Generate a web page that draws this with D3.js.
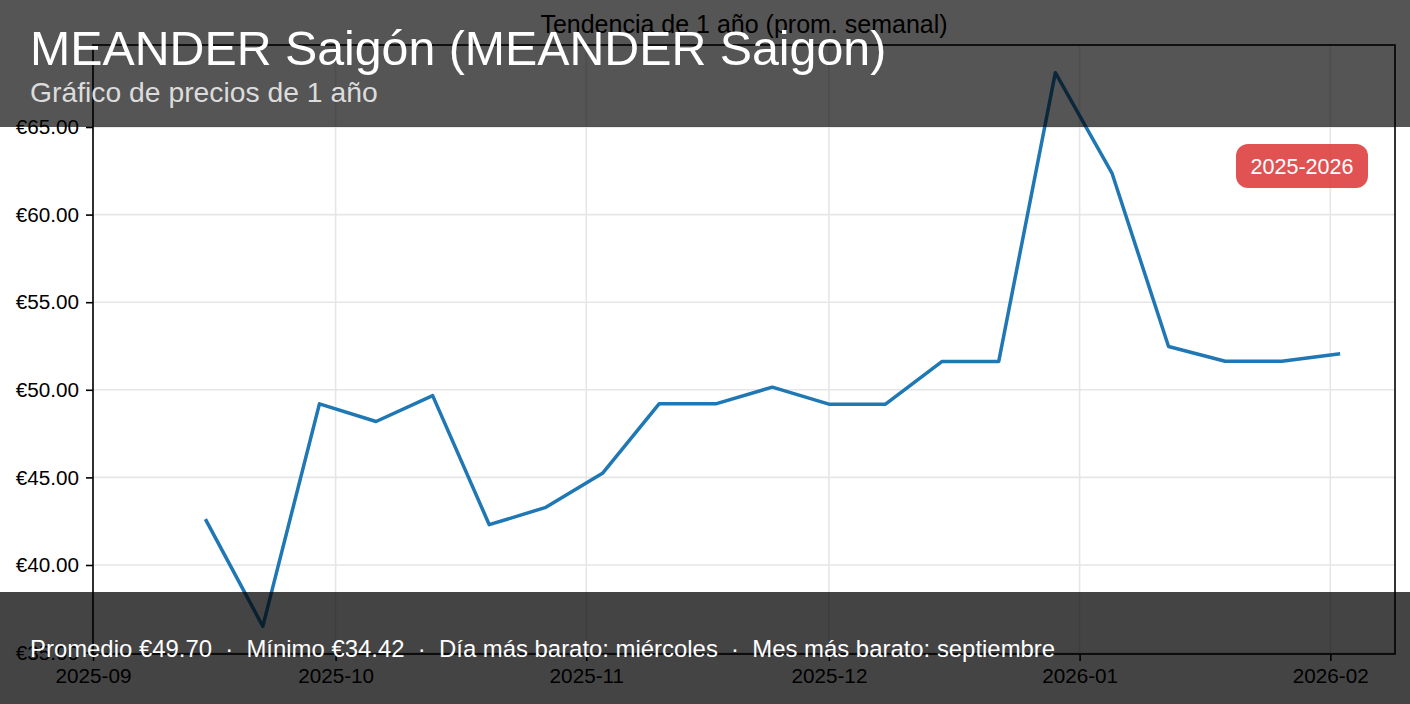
<!DOCTYPE html>
<html>
<head>
<meta charset="utf-8">
<script src="https://cdn.jsdelivr.net/npm/d3@7"></script>
<style>
  html, body { margin: 0; padding: 0; background: #fff; }
  svg { display: block; font-family: "Liberation Sans", Arial, Helvetica, sans-serif; }
</style>
</head>
<body>
<svg id="chart" width="1410" height="704"></svg>
<script>
// ---- data ----
const weekDates = ["2025-09-15","2025-09-22","2025-09-29","2025-10-06","2025-10-13","2025-10-20","2025-10-27",
  "2025-11-03","2025-11-10","2025-11-17","2025-11-24","2025-12-01","2025-12-08","2025-12-15","2025-12-22",
  "2025-12-29","2026-01-05","2026-01-12","2026-01-19","2026-01-26","2026-02-02"];
const weeklyAvg = [42.53, 36.5, 49.20, 48.19, 49.67, 42.30, 43.29, 45.23, 49.20, 49.20, 50.15, 49.18, 49.18,
  51.62, 51.62, 68.1, 62.37, 52.47, 51.63, 51.63, 52.05];
const yTicks = [35, 40, 45, 50, 55, 60, 65];
const xTickDates = ["2025-09-01","2025-10-01","2025-11-01","2025-12-01","2026-01-01","2026-02-01"];
const chartTitle = "Tendencia de 1 año (prom. semanal)";
const headTitle = "MEANDER Saigón (MEANDER Saigon)";
const headSub = "Gráfico de precios de 1 año";
const footerParts = ["Promedio €49.70", "Mínimo €34.42", "Día más barato: miércoles", "Mes más barato: septiembre"];
const badgeText = "2025-2026";

const parse = d3.utcParse("%Y-%m-%d");
const data = weekDates.map((d, i) => ({ date: parse(d), value: weeklyAvg[i] }));

const svg = d3.select("#chart");
const L = 93, R = 1395, T = 45, B = 654;

const yMin = d3.min(weeklyAvg), yMax = d3.max(weeklyAvg);
const pad = (yMax - yMin) * 0.05;
const x = d3.scaleUtc().domain([parse("2025-09-01"), parse("2026-02-09")]).range([L, R]);
const y = d3.scaleLinear().domain([yMin - pad, yMax + pad]).range([B, T]);

// grid
const g = svg.append("g");
g.selectAll("line.gy").data(yTicks.filter(v => y(v) >= T && y(v) <= B)).join("line")
  .attr("x1", L).attr("x2", R).attr("y1", d => y(d)).attr("y2", d => y(d))
  .attr("stroke", "#e6e6e6").attr("stroke-width", 1.6);
g.selectAll("line.gx").data(xTickDates.map(parse)).join("line")
  .attr("x1", d => x(d)).attr("x2", d => x(d)).attr("y1", T).attr("y2", B)
  .attr("stroke", "#e6e6e6").attr("stroke-width", 1.6);

// line
svg.append("path").datum(data)
  .attr("fill", "none").attr("stroke", "#1f77b4").attr("stroke-width", 3.5)
  .attr("stroke-linejoin", "round").attr("stroke-linecap", "square")
  .attr("d", d3.line().x(d => x(d.date)).y(d => y(d.value)));

// axes
const yAxis = d3.axisLeft(y).tickValues(yTicks).tickSize(7).tickPadding(7)
  .tickFormat(d => "€" + d3.format(".2f")(d));
const ya = svg.append("g").attr("transform", `translate(${L},0)`).call(yAxis);
const xAxis = d3.axisBottom(x).tickValues(xTickDates.map(parse)).tickSize(7).tickPadding(7)
  .tickFormat(d3.utcFormat("%Y-%m"));
const xa = svg.append("g").attr("transform", `translate(0,${B})`).call(xAxis);
[ya, xa].forEach(a => {
  a.select(".domain").remove();
  a.selectAll(".tick line").attr("stroke", "#000").attr("stroke-width", 1.6);
  a.selectAll(".tick text").attr("fill", "#000").style("font-size", "20.7px")
    .style("font-family", "'Liberation Sans', Arial, sans-serif");
});
xa.selectAll(".tick text").attr("dy", "0.71em");

// spines
svg.append("rect").attr("x", L).attr("y", T).attr("width", R - L).attr("height", B - T)
  .attr("fill", "none").attr("stroke", "#000").attr("stroke-width", 1.6);

// chart title
svg.append("text").attr("x", (L + R) / 2).attr("y", 33).attr("text-anchor", "middle")
  .style("font-size", "25px").attr("fill", "#000").text(chartTitle);

// badge
const bg = svg.append("g").attr("transform", "translate(1302,166)");
bg.append("rect").attr("x", -66).attr("y", -22).attr("width", 132).attr("height", 44).attr("rx", 12)
  .attr("fill", "rgb(220,53,53)").attr("fill-opacity", 0.85);
bg.append("text").attr("text-anchor", "middle").attr("dy", "0.35em").attr("fill", "#fff")
  .style("font-size", "21.5px").text(badgeText);

// header overlay
svg.append("rect").attr("x", 0).attr("y", 0).attr("width", 1410).attr("height", 127)
  .attr("fill", "#000").attr("fill-opacity", 0.667);
svg.append("text").attr("x", 30).attr("y", 65).attr("fill", "#fff")
  .style("font-size", "48.3px").text(headTitle);
svg.append("text").attr("x", 30).attr("y", 102).attr("fill", "#dcdcdc")
  .style("font-size", "28.3px").text(headSub);

// footer overlay
svg.append("rect").attr("x", 0).attr("y", 592).attr("width", 1410).attr("height", 112)
  .attr("fill", "#000").attr("fill-opacity", 0.733);
svg.append("text").attr("x", 30).attr("y", 657).attr("fill", "#fff")
  .style("font-size", "23.9px").style("white-space", "pre")
  .text(footerParts.join("  ·  "));
</script>
</body>
</html>
